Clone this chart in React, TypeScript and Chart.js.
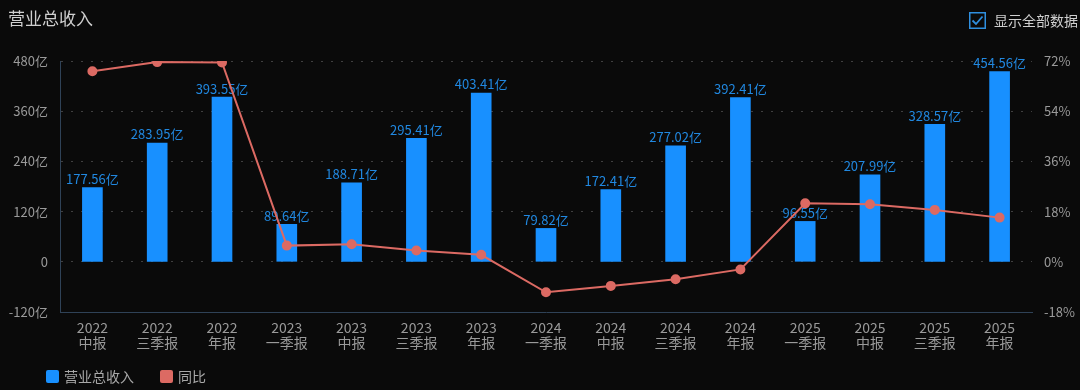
import React, { useEffect, useRef } from 'react';
import { Chart, registerables } from 'chart.js';

Chart.register(...registerables);

const categories: string[][] = [
  ['2022', '中报'], ['2022', '三季报'], ['2022', '年报'],
  ['2023', '一季报'], ['2023', '中报'], ['2023', '三季报'], ['2023', '年报'],
  ['2024', '一季报'], ['2024', '中报'], ['2024', '三季报'], ['2024', '年报'],
  ['2025', '一季报'], ['2025', '中报'], ['2025', '三季报'], ['2025', '年报'],
];
const revenue: number[] = [177.56, 283.95, 393.55, 89.64, 188.71, 295.41, 403.41, 79.82, 172.41, 277.02, 392.41, 96.55, 207.99, 328.57, 454.56];
const yoy: number[] = [68.3, 71.6, 71.5, 5.8, 6.28, 4.04, 2.5, -10.95, -8.64, -6.23, -2.73, 20.96, 20.64, 18.61, 15.84];
const leftTicks = { min: -120, max: 480, step: 120 };
const rightTicks = { min: -18, max: 72, step: 18 };

const FONT = '"Noto Sans CJK SC", "Noto Sans", sans-serif';
const BAR = '#1890ff';
const LINE = '#dc6a63';

const barLabels = {
  id: 'barLabels',
  afterDatasetDraw(chart: any, args: any) {
    if (args.index !== 0) return;
    const ctx = chart.ctx;
    const meta = chart.getDatasetMeta(0);
    ctx.save();
    ctx.font = `13px ${FONT}`;
    ctx.fillStyle = '#2188e0';
    ctx.textAlign = 'center';
    ctx.textBaseline = 'bottom';
    meta.data.forEach((el: any, i: number) => {
      ctx.fillText(revenue[i].toFixed(2) + '亿', el.x, el.y - 2);
    });
    ctx.restore();
  },
};

export default function App() {
  const ref = useRef<HTMLCanvasElement>(null);
  useEffect(() => {
    document.body.style.margin = '0';
    document.body.style.background = '#0a0a0a';
    const chart = new Chart(ref.current!, {
      type: 'bar',
      data: {
        labels: categories,
        datasets: [
          {
            type: 'bar',
            label: '营业总收入',
            data: revenue,
            backgroundColor: BAR,
            barThickness: 20,
            yAxisID: 'y',
            order: 1,
          },
          {
            type: 'line',
            label: '同比',
            data: yoy,
            borderColor: LINE,
            backgroundColor: LINE,
            borderWidth: 2,
            pointRadius: 4,
            pointBackgroundColor: LINE,
            pointBorderColor: LINE,
            tension: 0,
            yAxisID: 'y1',
            order: 0,
          } as any,
        ],
      },
      options: {
        responsive: false,
        animation: false,
        layout: { padding: { left: 0, right: 0, top: 61, bottom: 34 } },
        plugins: {
          legend: { display: false },
          tooltip: { enabled: false },
        },
        scales: {
          x: {
            grid: { display: false, drawTicks: false },
            border: { display: true, color: '#2f4257', width: 1 },
            ticks: { color: '#9a9a9a', font: { family: FONT, size: 14, lineHeight: 1.08 }, padding: 8, maxRotation: 0, autoSkip: false },
            afterFit: (s: any) => { s.height = 44; },
          },
          y: {
            position: 'left',
            min: leftTicks.min,
            max: leftTicks.max,
            ticks: {
              stepSize: leftTicks.step,
              color: '#9a9a9a',
              font: { family: FONT, size: 13 },
              padding: 12,
              callback: (v: any) => (v === 0 ? '0' : v + '亿'),
            },
            grid: { color: '#404040', drawTicks: false, lineWidth: 1 },
            border: { display: true, color: '#2f4257', dash: [2, 8] },
            afterFit: (s: any) => { s.width = 60; },
          },
          y1: {
            position: 'right',
            min: rightTicks.min,
            max: rightTicks.max,
            ticks: {
              stepSize: rightTicks.step,
              color: '#9a9a9a',
              font: { family: FONT, size: 13 },
              padding: 12,
              callback: (v: any) => v + '%',
            },
            grid: { display: false, drawTicks: false },
            border: { display: false },
            afterFit: (s: any) => { s.width = 48; },
          },
        },
      },
      plugins: [barLabels],
    });
    return () => chart.destroy();
  }, []);

  return (
    <div style={{ position: 'fixed', left: 0, top: 0, width: 1080, height: 390, background: '#0a0a0a', fontFamily: FONT }}>
      <canvas ref={ref} width={1080} height={390} style={{ position: 'absolute', left: 0, top: 0 }} />
      <div style={{ position: 'absolute', left: 8, top: 5, fontSize: 17, color: '#cfcfcf' }}>营业总收入</div>
      <div style={{ position: 'absolute', right: 2, top: 10, display: 'flex', alignItems: 'center', fontSize: 14, color: '#cfcfcf' }}>
        <svg width="17" height="17" viewBox="0 0 17 17" style={{ marginRight: 8 }}>
          <rect x="0.75" y="0.75" width="15.5" height="15.5" fill="none" stroke="#2f8fdf" strokeWidth="1.5" />
          <path d="M3.5 8.5 L7 12 L13.5 4.5" fill="none" stroke="#2f8fdf" strokeWidth="1.8" />
        </svg>
        <span>显示全部数据</span>
      </div>
      <div style={{ position: 'absolute', left: 46, top: 366, display: 'flex', alignItems: 'center', fontSize: 14, color: '#a8a8a8' }}>
        <span style={{ width: 13, height: 13, background: BAR, borderRadius: 2, marginRight: 5 }} />
        <span style={{ marginRight: 26 }}>营业总收入</span>
        <span style={{ width: 13, height: 13, background: LINE, borderRadius: 2, marginRight: 5 }} />
        <span>同比</span>
      </div>
    </div>
  );
}
